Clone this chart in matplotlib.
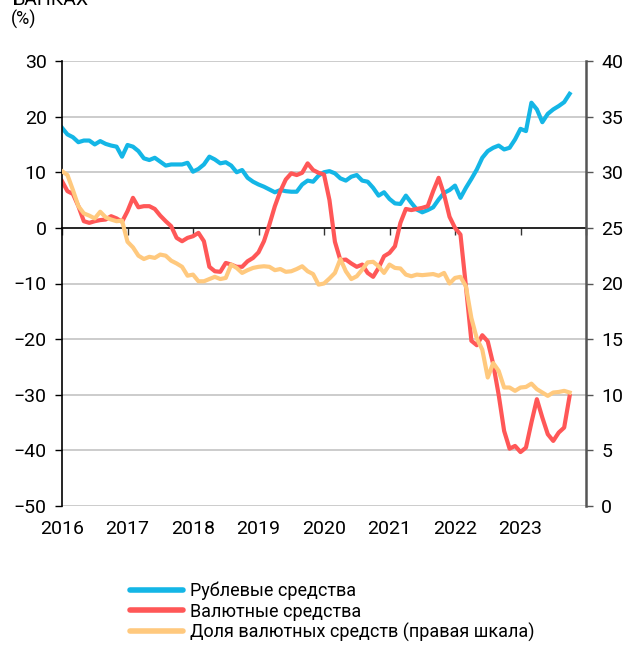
import numpy as np
import matplotlib.pyplot as plt
from matplotlib import font_manager

# monthly series, Jan 2016 .. Oct 2023
rub = [18.0, 16.8, 16.3, 15.4, 15.7, 15.7, 15.0, 15.6, 15.1, 14.8, 14.6, 12.8,
       14.9, 14.6, 13.8, 12.5, 12.2, 12.6, 11.9, 11.2, 11.4, 11.4, 11.4, 11.7,
       10.1, 10.6, 11.4, 12.8, 12.3, 11.6, 11.8, 11.2, 10.0, 10.4, 9.0, 8.3,
       7.8, 7.4, 6.9, 6.4, 6.8, 6.6, 6.5, 6.5, 7.8, 8.5, 8.3, 9.4,
       10.0, 10.2, 9.8, 8.9, 8.5, 9.2, 9.5, 8.5, 8.3, 7.2, 5.8, 6.4,
       5.2, 4.4, 4.3, 5.8, 4.5, 3.3, 2.8, 3.2, 3.7, 5.1, 6.3, 6.8,
       7.6, 5.4, 7.2, 8.8, 10.5, 12.6, 13.8, 14.4, 14.8, 14.1, 14.4, 15.9,
       17.8, 17.4, 22.5, 21.3, 19.0, 20.5, 21.3, 21.9, 22.6, 24.1]

fx = [8.4, 6.6, 6.1, 3.9, 1.2, 0.9, 1.2, 1.4, 1.5, 2.1, 1.7, 1.1,
      3.0, 5.4, 3.7, 3.9, 3.9, 3.4, 2.2, 1.2, 0.3, -1.8, -2.4, -1.8,
      -1.5, -0.9, -2.4, -7.0, -7.8, -7.9, -6.3, -6.6, -7.0, -7.0, -6.0, -5.4,
      -4.4, -2.4, 0.6, 3.9, 6.6, 8.7, 9.8, 9.5, 9.9, 11.6, 10.4, 9.9,
      9.6, 5.0, -2.5, -5.8, -5.7, -6.4, -7.0, -6.6, -8.1, -8.8, -7.2, -5.1,
      -4.5, -3.3, 0.9, 3.4, 3.2, 3.4, 3.6, 3.9, 6.6, 9.0, 6.0, 2.0,
      0.0, -1.2, -10.5, -20.3, -21.1, -19.3, -20.4, -24.5, -30.0, -36.5, -39.7, -39.2,
      -40.3, -39.5, -35.0, -30.8, -34.1, -37.1, -38.3, -36.8, -35.9, -30.2]

share = [30.1, 29.75, 28.4, 26.95, 26.3, 26.1, 25.85, 26.45, 25.95, 25.75, 25.6, 25.65,
         23.75, 23.25, 22.5, 22.2, 22.4, 22.3, 22.6, 22.5, 22.05, 21.8, 21.5, 20.7,
         20.8, 20.2, 20.2, 20.4, 20.6, 20.4, 20.5, 21.7, 21.4, 20.95, 21.2, 21.4,
         21.5, 21.55, 21.5, 21.2, 21.3, 21.05, 21.1, 21.3, 21.55, 21.1, 20.85, 19.9,
         20.0, 20.45, 20.95, 22.2, 21.1, 20.4, 20.65, 21.25, 21.9, 21.95, 21.55, 20.95,
         21.7, 21.4, 21.35, 20.8, 20.65, 20.8, 20.75, 20.8, 20.85, 20.7, 20.95, 20.0,
         20.5, 20.6, 19.75, 16.9, 15.05, 14.05, 11.55, 12.85, 12.15, 10.65, 10.65, 10.35,
         10.65, 10.7, 11.0, 10.5, 10.2, 9.9, 10.2, 10.25, 10.35, 10.2]

years = list(range(2016, 2025))
year_labels = [str(y) for y in years[:-1]] + [""]
labels = ["Рублевые средства", "Валютные средства",
          "Доля валютных средств (правая шкала)"]

installed = {f.name for f in font_manager.fontManager.ttflist}
tick_font = "Liberation Sans Narrow" if "Liberation Sans Narrow" in installed else "Roboto"
plt.rcParams["font.family"] = [tick_font, "DejaVu Sans"]

BLUE = "#14B6E6"
RED = "#FF5757"
YEL = "#FFC97E"
GRID = "#C4C4C4"

x = 2016 + np.arange(len(rub)) / 12

fig = plt.figure(figsize=(6.27, 6.54), dpi=100)
ax = fig.add_axes([62 / 627, 1 - 506 / 654, 524 / 627, 445 / 654])
ax2 = ax.twinx()

ax.plot(x, rub, color=BLUE, lw=3, solid_joinstyle="round", label=labels[0])
ax.plot(x, fx, color=RED, lw=3, solid_joinstyle="round", label=labels[1])
ax2.plot(x, share, color=YEL, lw=3, solid_joinstyle="round", label=labels[2])

ax.set_xlim(2016, 2024)
ax.set_ylim(-50, 30)
ax2.set_ylim(0, 40)
ax.set_yticks(range(-50, 31, 10))
ax2.set_yticks(range(0, 41, 5))

ax.set_axisbelow(True)
for v in range(-50, 31, 10):
    if v != 0:
        ax.axhline(v, color=GRID, lw=1.2, zorder=0)

# zero line with year ticks pointing down
zero = ax.secondary_xaxis((0 + 50) / 80)
zero.set_alignment("bottom")
zero.set_xticks(years)
zero.set_xticklabels([])
zero.spines["bottom"].set_color("black")
zero.spines["bottom"].set_linewidth(1.2)
zero.tick_params(axis="x", direction="out", length=5, width=1, color="#333333")
zero.set_zorder(1)

ax.set_xticks(years)
ax.set_xticklabels(year_labels)
ax.tick_params(axis="x", length=0, pad=10, labelsize=14)
ax.tick_params(axis="y", direction="out", length=5, width=1, pad=6, labelsize=14)
ax2.tick_params(axis="y", direction="out", length=5, width=1, pad=6, labelsize=14,
                color="#555555")

for s in ["top", "bottom"]:
    ax.spines[s].set_visible(False)
    ax2.spines[s].set_visible(False)
ax2.spines["left"].set_visible(False)
ax.spines["left"].set_color("black")
ax.spines["left"].set_linewidth(1.2)
ax.spines["right"].set_visible(False)
ax2.spines["right"].set_color("#555555")
ax2.spines["right"].set_linewidth(1.8)

fig.text(13 / 627, 1 - 5 / 654, "БАНКАХ", fontsize=14, va="baseline", ha="left")
fig.text(11 / 627, 1 - 25 / 654, "(%)", fontsize=13, va="baseline", ha="left")

h1, l1 = ax.get_legend_handles_labels()
h2, l2 = ax2.get_legend_handles_labels()
leg = fig.legend(h1 + h2, l1 + l2, loc="upper left",
                 bbox_to_anchor=(130 / 627, 1 - 582 / 654),
                 frameon=False, fontsize=13, handlelength=2.95, handletextpad=0.35,
                 labelspacing=0.12, borderpad=0, borderaxespad=0)
for line in leg.get_lines():
    line.set_linewidth(4)
    line.set_solid_capstyle("round")

fig.savefig("out.png", dpi=100)
